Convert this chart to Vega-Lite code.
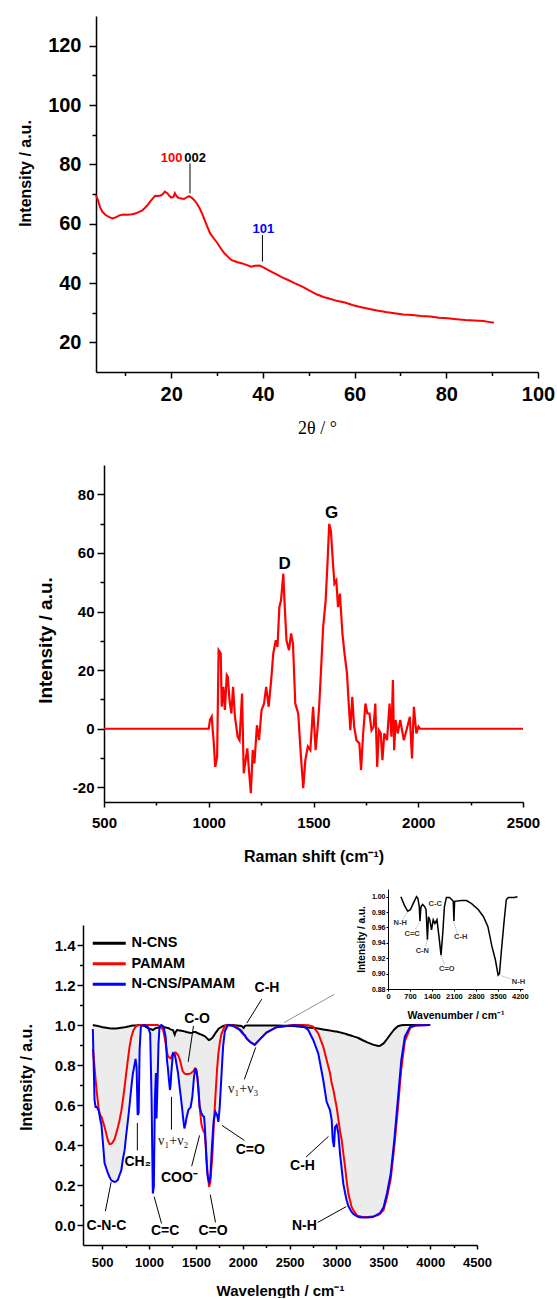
{
"$schema": "https://vega.github.io/schema/vega-lite/v6.json",
"padding": {"left": 17, "top": 16, "right": 0, "bottom": 0},
"bounds": "flush",
"spacing": 93,
"resolve": {"scale": {"color": "independent"}, "legend": {"color": "independent"}},
"config": {"view": {"stroke": null}, "font": "Liberation Sans",
  "axis": {"grid": false, "domainColor": "#000", "tickColor": "#000", "labelColor": "#000", "titleColor": "#000", "labelFontWeight": "bold", "titleFontWeight": "bold", "labelFont": "Liberation Sans", "titleFont": "Liberation Sans", "labelFlush": false, "labelOverlap": false, "labelBound": false, "domainWidth": 1.5, "tickWidth": 1.5}},
"datasets": {
"xrd": [{"x":3.6,"y":69.5},{"x":4.0,"y":68},{"x":4.5,"y":65.5},{"x":5.0,"y":64},{"x":5.7,"y":62.9},{"x":6.5,"y":62.2},{"x":7.2,"y":61.8},{"x":8.0,"y":62.2},{"x":8.7,"y":62.8},{"x":9.6,"y":63.1},{"x":10.5,"y":63.0},{"x":11.5,"y":63.2},{"x":12.3,"y":63.5},{"x":13.0,"y":64.0},{"x":13.7,"y":64.5},{"x":14.2,"y":65.2},{"x":14.8,"y":66.2},{"x":15.4,"y":67.4},{"x":16.0,"y":68.5},{"x":16.5,"y":69.4},{"x":17.1,"y":69.3},{"x":17.7,"y":69.5},{"x":18.2,"y":70.0},{"x":18.6,"y":70.8},{"x":19.2,"y":70.2},{"x":19.6,"y":69.4},{"x":20.0,"y":68.8},{"x":20.5,"y":69.0},{"x":20.8,"y":70.3},{"x":21.2,"y":69.2},{"x":21.6,"y":68.7},{"x":22.2,"y":68.5},{"x":22.8,"y":68.3},{"x":23.4,"y":68.9},{"x":23.9,"y":69.3},{"x":24.5,"y":68.7},{"x":25.0,"y":68.0},{"x":25.6,"y":66.8},{"x":26.2,"y":65.2},{"x":26.8,"y":63.2},{"x":27.3,"y":61.2},{"x":27.9,"y":58.9},{"x":28.5,"y":56.7},{"x":29.3,"y":55.0},{"x":30.1,"y":53.4},{"x":30.8,"y":51.7},{"x":31.6,"y":50.0},{"x":32.4,"y":48.8},{"x":33.1,"y":47.8},{"x":34.3,"y":47.1},{"x":35.5,"y":46.6},{"x":36.4,"y":46.1},{"x":37.4,"y":45.5},{"x":38.3,"y":45.8},{"x":39.3,"y":45.9},{"x":40.1,"y":45.3},{"x":40.9,"y":44.6},{"x":42.0,"y":43.7},{"x":43.2,"y":42.7},{"x":44.3,"y":41.8},{"x":45.5,"y":41.0},{"x":47.0,"y":39.9},{"x":48.6,"y":38.8},{"x":50.1,"y":37.5},{"x":51.7,"y":36.2},{"x":53.2,"y":35.3},{"x":54.8,"y":34.6},{"x":56.3,"y":33.9},{"x":57.9,"y":33.4},{"x":59.5,"y":32.6},{"x":61.0,"y":32.0},{"x":63.0,"y":31.3},{"x":64.9,"y":30.7},{"x":66.8,"y":30.2},{"x":68.7,"y":29.8},{"x":70.6,"y":29.4},{"x":72.6,"y":29.2},{"x":74.5,"y":28.9},{"x":76.5,"y":28.7},{"x":78.4,"y":28.3},{"x":80.3,"y":28.1},{"x":82.2,"y":27.8},{"x":84.2,"y":27.5},{"x":86.1,"y":27.4},{"x":88.1,"y":27.2},{"x":89.2,"y":26.9},{"x":90.4,"y":26.6}],
"xrdLabels": [{"x":20.1,"y":82,"label":"100"},{"x":25.2,"y":82,"label":"002"},{"x":40.1,"y":58.1,"label":"101"}],
"xrdRules": [{"x":24.1,"y":80.3,"y2":70.2},{"x":39.9,"y":56.2,"y2":47.2}],
"raman": [{"x":500,"y":0},{"x":1000,"y":0},{"x":1006,"y":3},{"x":1014,"y":4.1},{"x":1019,"y":-0.5},{"x":1023,"y":-3.9},{"x":1031,"y":-13},{"x":1040,"y":-9.5},{"x":1047,"y":26.8},{"x":1057,"y":25.7},{"x":1062,"y":7.5},{"x":1070,"y":14.3},{"x":1077,"y":6.4},{"x":1086,"y":18.3},{"x":1091,"y":17.7},{"x":1099,"y":9.8},{"x":1108,"y":5.2},{"x":1116,"y":14.3},{"x":1125,"y":4.1},{"x":1138,"y":-2.7},{"x":1147,"y":-3.9},{"x":1159,"y":12},{"x":1167,"y":-15.2},{"x":1176,"y":-10.7},{"x":1184,"y":-6.7},{"x":1193,"y":-15.2},{"x":1201,"y":-22},{"x":1210,"y":-7.3},{"x":1218,"y":-11.8},{"x":1230,"y":1.2},{"x":1240,"y":-3.9},{"x":1252,"y":6.4},{"x":1264,"y":8.6},{"x":1274,"y":14.3},{"x":1286,"y":7.5},{"x":1298,"y":16.6},{"x":1308,"y":25.7},{"x":1320,"y":30.2},{"x":1328,"y":27.9},{"x":1337,"y":41.5},{"x":1345,"y":43.8},{"x":1356,"y":52.9},{"x":1362,"y":42.7},{"x":1371,"y":30.2},{"x":1383,"y":26.8},{"x":1393,"y":32.5},{"x":1402,"y":29.1},{"x":1413,"y":8.6},{"x":1427,"y":5.2},{"x":1439,"y":-8.4},{"x":1451,"y":-20.3},{"x":1461,"y":-10.7},{"x":1473,"y":-6.1},{"x":1485,"y":-7.3},{"x":1498,"y":7.5},{"x":1510,"y":-7.3},{"x":1520,"y":0.7},{"x":1527,"y":7.5},{"x":1536,"y":20},{"x":1546,"y":34.7},{"x":1558,"y":43.8},{"x":1566,"y":55.2},{"x":1575,"y":69.9},{"x":1583,"y":67.6},{"x":1592,"y":57.4},{"x":1600,"y":49.5},{"x":1609,"y":50.6},{"x":1617,"y":41.5},{"x":1626,"y":46.1},{"x":1638,"y":32.5},{"x":1648,"y":25.7},{"x":1660,"y":18.8},{"x":1668,"y":8.6},{"x":1676,"y":-0.5},{"x":1685,"y":10.9},{"x":1694,"y":0.7},{"x":1705,"y":-3.9},{"x":1719,"y":-5},{"x":1727,"y":-14.1},{"x":1736,"y":-2.7},{"x":1748,"y":8.6},{"x":1757,"y":5.2},{"x":1767,"y":5.2},{"x":1777,"y":-0.5},{"x":1787,"y":0.7},{"x":1795,"y":8.6},{"x":1804,"y":-13},{"x":1812,"y":-0.5},{"x":1821,"y":-1.6},{"x":1829,"y":-10.7},{"x":1838,"y":-1.6},{"x":1851,"y":-3.9},{"x":1863,"y":8.6},{"x":1872,"y":-2.7},{"x":1879,"y":16.6},{"x":1885,"y":-7.3},{"x":1892,"y":3},{"x":1902,"y":-1.6},{"x":1914,"y":3},{"x":1931,"y":-3.9},{"x":1948,"y":0.7},{"x":1960,"y":4.1},{"x":1970,"y":-10.1},{"x":1979,"y":7.5},{"x":1991,"y":-1.6},{"x":2001,"y":0.7},{"x":2008,"y":0},{"x":2500,"y":0}],
"ramanLabels": [{"x":1362,"y":56.3,"label":"D"},{"x":1587,"y":73.6,"label":"G"}],
"ftir": [{"w":400,"N-CNS":1.0,"PAMAM":0.88,"N-CNS/PAMAM":0.98},{"w":418,"N-CNS":0.998,"PAMAM":0.79,"N-CNS/PAMAM":0.625},{"w":429,"N-CNS":0.997,"PAMAM":0.73,"N-CNS/PAMAM":0.59},{"w":443,"N-CNS":0.996,"PAMAM":0.66,"N-CNS/PAMAM":0.59},{"w":464,"N-CNS":0.994,"PAMAM":0.575,"N-CNS/PAMAM":0.57},{"w":478,"N-CNS":0.993,"PAMAM":0.55,"N-CNS/PAMAM":0.53},{"w":492,"N-CNS":0.99,"PAMAM":0.541,"N-CNS/PAMAM":0.5},{"w":525,"N-CNS":0.988,"PAMAM":0.491,"N-CNS/PAMAM":0.31},{"w":560,"N-CNS":0.985,"PAMAM":0.424,"N-CNS/PAMAM":0.26},{"w":578,"N-CNS":0.984,"PAMAM":0.404,"N-CNS/PAMAM":0.24},{"w":596,"N-CNS":0.982,"PAMAM":0.406,"N-CNS/PAMAM":0.224},{"w":607,"N-CNS":0.982,"PAMAM":0.41,"N-CNS/PAMAM":0.22},{"w":632,"N-CNS":0.982,"PAMAM":0.43,"N-CNS/PAMAM":0.215},{"w":649,"N-CNS":0.983,"PAMAM":0.457,"N-CNS/PAMAM":0.218},{"w":668,"N-CNS":0.984,"PAMAM":0.49,"N-CNS/PAMAM":0.227},{"w":685,"N-CNS":0.985,"PAMAM":0.524,"N-CNS/PAMAM":0.25},{"w":704,"N-CNS":0.986,"PAMAM":0.57,"N-CNS/PAMAM":0.274},{"w":721,"N-CNS":0.987,"PAMAM":0.625,"N-CNS/PAMAM":0.33},{"w":739,"N-CNS":0.989,"PAMAM":0.69,"N-CNS/PAMAM":0.374},{"w":756,"N-CNS":0.99,"PAMAM":0.758,"N-CNS/PAMAM":0.45},{"w":775,"N-CNS":0.992,"PAMAM":0.83,"N-CNS/PAMAM":0.525},{"w":792,"N-CNS":0.994,"PAMAM":0.892,"N-CNS/PAMAM":0.6},{"w":811,"N-CNS":0.996,"PAMAM":0.94,"N-CNS/PAMAM":0.69},{"w":828,"N-CNS":0.997,"PAMAM":0.967,"N-CNS/PAMAM":0.76},{"w":835,"N-CNS":0.997,"PAMAM":0.975,"N-CNS/PAMAM":0.775},{"w":856,"N-CNS":0.998,"PAMAM":0.99,"N-CNS/PAMAM":0.83},{"w":867,"N-CNS":0.998,"PAMAM":0.997,"N-CNS/PAMAM":0.79},{"w":878,"N-CNS":0.999,"PAMAM":0.998,"N-CNS/PAMAM":0.55},{"w":889,"N-CNS":1.0,"PAMAM":0.999,"N-CNS/PAMAM":0.56},{"w":899,"N-CNS":1.0,"PAMAM":1.0,"N-CNS/PAMAM":0.875},{"w":913,"N-CNS":1.0,"PAMAM":1.0,"N-CNS/PAMAM":0.995},{"w":952,"N-CNS":0.995,"PAMAM":1.0,"N-CNS/PAMAM":1.0},{"w":987,"N-CNS":0.985,"PAMAM":1.0,"N-CNS/PAMAM":0.99},{"w":1012,"N-CNS":0.98,"PAMAM":1.0,"N-CNS/PAMAM":0.958},{"w":1027,"N-CNS":0.978,"PAMAM":1.0,"N-CNS/PAMAM":0.625},{"w":1040,"N-CNS":0.975,"PAMAM":1.0,"N-CNS/PAMAM":0.157},{"w":1051,"N-CNS":0.978,"PAMAM":1.0,"N-CNS/PAMAM":0.19},{"w":1062,"N-CNS":0.982,"PAMAM":1.0,"N-CNS/PAMAM":0.625},{"w":1073,"N-CNS":0.985,"PAMAM":1.0,"N-CNS/PAMAM":0.76},{"w":1080,"N-CNS":0.985,"PAMAM":1.0,"N-CNS/PAMAM":0.533},{"w":1091,"N-CNS":0.986,"PAMAM":1.0,"N-CNS/PAMAM":0.725},{"w":1101,"N-CNS":0.987,"PAMAM":0.998,"N-CNS/PAMAM":0.908},{"w":1112,"N-CNS":0.988,"PAMAM":0.995,"N-CNS/PAMAM":0.99},{"w":1130,"N-CNS":0.99,"PAMAM":0.99,"N-CNS/PAMAM":1.0},{"w":1148,"N-CNS":0.99,"PAMAM":0.975,"N-CNS/PAMAM":0.995},{"w":1155,"N-CNS":0.99,"PAMAM":0.965,"N-CNS/PAMAM":0.99},{"w":1177,"N-CNS":0.988,"PAMAM":0.908,"N-CNS/PAMAM":0.942},{"w":1191,"N-CNS":0.986,"PAMAM":0.865,"N-CNS/PAMAM":0.825},{"w":1202,"N-CNS":0.985,"PAMAM":0.842,"N-CNS/PAMAM":0.78},{"w":1209,"N-CNS":0.984,"PAMAM":0.84,"N-CNS/PAMAM":0.74},{"w":1223,"N-CNS":0.98,"PAMAM":0.835,"N-CNS/PAMAM":0.675},{"w":1230,"N-CNS":0.978,"PAMAM":0.833,"N-CNS/PAMAM":0.7},{"w":1237,"N-CNS":0.977,"PAMAM":0.84,"N-CNS/PAMAM":0.758},{"w":1255,"N-CNS":0.975,"PAMAM":0.858,"N-CNS/PAMAM":0.858},{"w":1274,"N-CNS":0.952,"PAMAM":0.862,"N-CNS/PAMAM":0.852},{"w":1284,"N-CNS":0.965,"PAMAM":0.862,"N-CNS/PAMAM":0.83},{"w":1298,"N-CNS":0.975,"PAMAM":0.855,"N-CNS/PAMAM":0.79},{"w":1309,"N-CNS":0.974,"PAMAM":0.85,"N-CNS/PAMAM":0.76},{"w":1326,"N-CNS":0.972,"PAMAM":0.83,"N-CNS/PAMAM":0.69},{"w":1334,"N-CNS":0.972,"PAMAM":0.817,"N-CNS/PAMAM":0.66},{"w":1355,"N-CNS":0.97,"PAMAM":0.775,"N-CNS/PAMAM":0.575},{"w":1362,"N-CNS":0.97,"PAMAM":0.767,"N-CNS/PAMAM":0.54},{"w":1377,"N-CNS":0.968,"PAMAM":0.758,"N-CNS/PAMAM":0.483},{"w":1391,"N-CNS":0.966,"PAMAM":0.755,"N-CNS/PAMAM":0.51},{"w":1398,"N-CNS":0.965,"PAMAM":0.755,"N-CNS/PAMAM":0.533},{"w":1420,"N-CNS":0.963,"PAMAM":0.755,"N-CNS/PAMAM":0.575},{"w":1444,"N-CNS":0.96,"PAMAM":0.758,"N-CNS/PAMAM":0.59},{"w":1462,"N-CNS":0.962,"PAMAM":0.765,"N-CNS/PAMAM":0.642},{"w":1469,"N-CNS":0.963,"PAMAM":0.767,"N-CNS/PAMAM":0.68},{"w":1480,"N-CNS":0.965,"PAMAM":0.775,"N-CNS/PAMAM":0.742},{"w":1491,"N-CNS":0.965,"PAMAM":0.783,"N-CNS/PAMAM":0.77},{"w":1498,"N-CNS":0.965,"PAMAM":0.78,"N-CNS/PAMAM":0.783},{"w":1505,"N-CNS":0.963,"PAMAM":0.775,"N-CNS/PAMAM":0.77},{"w":1515,"N-CNS":0.96,"PAMAM":0.74,"N-CNS/PAMAM":0.742},{"w":1526,"N-CNS":0.958,"PAMAM":0.69,"N-CNS/PAMAM":0.68},{"w":1540,"N-CNS":0.955,"PAMAM":0.59,"N-CNS/PAMAM":0.59},{"w":1558,"N-CNS":0.952,"PAMAM":0.507,"N-CNS/PAMAM":0.56},{"w":1569,"N-CNS":0.95,"PAMAM":0.485,"N-CNS/PAMAM":0.55},{"w":1576,"N-CNS":0.948,"PAMAM":0.474,"N-CNS/PAMAM":0.545},{"w":1587,"N-CNS":0.946,"PAMAM":0.465,"N-CNS/PAMAM":0.541},{"w":1594,"N-CNS":0.944,"PAMAM":0.457,"N-CNS/PAMAM":0.5},{"w":1605,"N-CNS":0.94,"PAMAM":0.39,"N-CNS/PAMAM":0.407},{"w":1612,"N-CNS":0.937,"PAMAM":0.34,"N-CNS/PAMAM":0.33},{"w":1622,"N-CNS":0.932,"PAMAM":0.27,"N-CNS/PAMAM":0.257},{"w":1630,"N-CNS":0.928,"PAMAM":0.24,"N-CNS/PAMAM":0.23},{"w":1640,"N-CNS":0.925,"PAMAM":0.19,"N-CNS/PAMAM":0.215},{"w":1654,"N-CNS":0.928,"PAMAM":0.215,"N-CNS/PAMAM":0.24},{"w":1672,"N-CNS":0.935,"PAMAM":0.324,"N-CNS/PAMAM":0.4},{"w":1676,"N-CNS":0.937,"PAMAM":0.35,"N-CNS/PAMAM":0.424},{"w":1690,"N-CNS":0.945,"PAMAM":0.491,"N-CNS/PAMAM":0.524},{"w":1708,"N-CNS":0.96,"PAMAM":0.641,"N-CNS/PAMAM":0.566},{"w":1726,"N-CNS":0.97,"PAMAM":0.78,"N-CNS/PAMAM":0.55},{"w":1740,"N-CNS":0.98,"PAMAM":0.86,"N-CNS/PAMAM":0.516},{"w":1754,"N-CNS":0.985,"PAMAM":0.908,"N-CNS/PAMAM":0.59},{"w":1772,"N-CNS":0.99,"PAMAM":0.955,"N-CNS/PAMAM":0.742},{"w":1790,"N-CNS":0.995,"PAMAM":0.975,"N-CNS/PAMAM":0.892},{"w":1808,"N-CNS":0.998,"PAMAM":0.995,"N-CNS/PAMAM":0.965},{"w":1815,"N-CNS":0.998,"PAMAM":0.997,"N-CNS/PAMAM":0.975},{"w":1843,"N-CNS":1.0,"PAMAM":1.0,"N-CNS/PAMAM":1.0},{"w":1897,"N-CNS":1.0,"PAMAM":0.997,"N-CNS/PAMAM":0.995},{"w":1932,"N-CNS":0.998,"PAMAM":0.992,"N-CNS/PAMAM":0.985},{"w":1968,"N-CNS":0.996,"PAMAM":0.978,"N-CNS/PAMAM":0.975},{"w":1986,"N-CNS":0.995,"PAMAM":0.972,"N-CNS/PAMAM":0.965},{"w":2010,"N-CNS":0.985,"PAMAM":0.955,"N-CNS/PAMAM":0.952},{"w":2021,"N-CNS":0.995,"PAMAM":0.948,"N-CNS/PAMAM":0.95},{"w":2039,"N-CNS":0.998,"PAMAM":0.933,"N-CNS/PAMAM":0.935},{"w":2075,"N-CNS":0.998,"PAMAM":0.917,"N-CNS/PAMAM":0.917},{"w":2093,"N-CNS":0.998,"PAMAM":0.912,"N-CNS/PAMAM":0.91},{"w":2128,"N-CNS":0.998,"PAMAM":0.903,"N-CNS/PAMAM":0.9},{"w":2182,"N-CNS":0.998,"PAMAM":0.928,"N-CNS/PAMAM":0.928},{"w":2253,"N-CNS":0.998,"PAMAM":0.962,"N-CNS/PAMAM":0.962},{"w":2360,"N-CNS":0.997,"PAMAM":0.989,"N-CNS/PAMAM":0.989},{"w":2538,"N-CNS":0.995,"PAMAM":1.0,"N-CNS/PAMAM":0.999},{"w":2645,"N-CNS":0.99,"PAMAM":1.0,"N-CNS/PAMAM":0.995},{"w":2699,"N-CNS":0.987,"PAMAM":0.999,"N-CNS/PAMAM":0.975},{"w":2752,"N-CNS":0.985,"PAMAM":0.992,"N-CNS/PAMAM":0.925},{"w":2806,"N-CNS":0.982,"PAMAM":0.958,"N-CNS/PAMAM":0.858},{"w":2859,"N-CNS":0.978,"PAMAM":0.892,"N-CNS/PAMAM":0.725},{"w":2895,"N-CNS":0.975,"PAMAM":0.825,"N-CNS/PAMAM":0.616},{"w":2931,"N-CNS":0.972,"PAMAM":0.76,"N-CNS/PAMAM":0.575},{"w":2949,"N-CNS":0.971,"PAMAM":0.708,"N-CNS/PAMAM":0.525},{"w":2960,"N-CNS":0.97,"PAMAM":0.69,"N-CNS/PAMAM":0.425},{"w":2974,"N-CNS":0.969,"PAMAM":0.66,"N-CNS/PAMAM":0.39},{"w":2985,"N-CNS":0.968,"PAMAM":0.63,"N-CNS/PAMAM":0.49},{"w":3002,"N-CNS":0.967,"PAMAM":0.59,"N-CNS/PAMAM":0.5},{"w":3020,"N-CNS":0.965,"PAMAM":0.53,"N-CNS/PAMAM":0.458},{"w":3038,"N-CNS":0.963,"PAMAM":0.47,"N-CNS/PAMAM":0.357},{"w":3056,"N-CNS":0.961,"PAMAM":0.424,"N-CNS/PAMAM":0.28},{"w":3073,"N-CNS":0.959,"PAMAM":0.36,"N-CNS/PAMAM":0.207},{"w":3092,"N-CNS":0.957,"PAMAM":0.291,"N-CNS/PAMAM":0.16},{"w":3109,"N-CNS":0.954,"PAMAM":0.22,"N-CNS/PAMAM":0.124},{"w":3127,"N-CNS":0.951,"PAMAM":0.157,"N-CNS/PAMAM":0.095},{"w":3162,"N-CNS":0.946,"PAMAM":0.09,"N-CNS/PAMAM":0.065},{"w":3181,"N-CNS":0.943,"PAMAM":0.074,"N-CNS/PAMAM":0.055},{"w":3216,"N-CNS":0.938,"PAMAM":0.05,"N-CNS/PAMAM":0.044},{"w":3234,"N-CNS":0.935,"PAMAM":0.045,"N-CNS/PAMAM":0.04},{"w":3275,"N-CNS":0.925,"PAMAM":0.04,"N-CNS/PAMAM":0.038},{"w":3330,"N-CNS":0.913,"PAMAM":0.04,"N-CNS/PAMAM":0.038},{"w":3389,"N-CNS":0.902,"PAMAM":0.042,"N-CNS/PAMAM":0.04},{"w":3446,"N-CNS":0.895,"PAMAM":0.05,"N-CNS/PAMAM":0.055},{"w":3465,"N-CNS":0.896,"PAMAM":0.055,"N-CNS/PAMAM":0.06},{"w":3503,"N-CNS":0.908,"PAMAM":0.075,"N-CNS/PAMAM":0.089},{"w":3540,"N-CNS":0.93,"PAMAM":0.14,"N-CNS/PAMAM":0.16},{"w":3579,"N-CNS":0.955,"PAMAM":0.23,"N-CNS/PAMAM":0.256},{"w":3617,"N-CNS":0.978,"PAMAM":0.39,"N-CNS/PAMAM":0.423},{"w":3655,"N-CNS":0.994,"PAMAM":0.58,"N-CNS/PAMAM":0.624},{"w":3692,"N-CNS":0.999,"PAMAM":0.78,"N-CNS/PAMAM":0.825},{"w":3730,"N-CNS":1.0,"PAMAM":0.92,"N-CNS/PAMAM":0.942},{"w":3787,"N-CNS":1.0,"PAMAM":0.985,"N-CNS/PAMAM":0.992},{"w":3844,"N-CNS":1.0,"PAMAM":0.998,"N-CNS/PAMAM":0.998},{"w":4000,"N-CNS":1.0,"PAMAM":1.0,"N-CNS/PAMAM":1.0}],
"ftirLabels": [{"w":545,"y":-0.003,"label":"C-N-C"},{"w":879,"y":0.314,"label":"CH₂"},{"w":1171,"y":-0.032,"label":"C=C"},{"w":1683,"y":-0.032,"label":"C=O"},{"w":1323,"y":0.236,"label":"COO⁻"},{"w":1512,"y":1.03,"label":"C-O"},{"w":2081,"y":0.373,"label":"C=O"},{"w":2259,"y":1.187,"label":"C-H"},{"w":2638,"y":0.294,"label":"C-H"},{"w":2657,"y":-0.003,"label":"N-H"}],
"ftirNu": [{"w":1258,"y":0.42,"label":"ν₁+ν₂"},{"w":2005,"y":0.682,"label":"ν₁+ν₃"}],
"ftirArrows": [{"w":534,"y":0.069,"w2":595,"y2":0.214},{"w":875,"y":0.373,"w2":875,"y2":0.51},{"w":1133,"y":0.008,"w2":1054,"y2":0.142},{"w":1709,"y":0.013,"w2":1653,"y2":0.152},{"w":1239,"y":0.477,"w2":1239,"y2":0.641},{"w":1455,"y":0.294,"w2":1539,"y2":0.448},{"w":1474,"y":0.995,"w2":1418,"y2":0.816},{"w":2017,"y":0.423,"w2":1778,"y2":0.498},{"w":2017,"y":0.728,"w2":2138,"y2":0.888},{"w":2202,"y":1.129,"w2":2043,"y2":1.009},{"w":2676,"y":0.34,"w2":2915,"y2":0.443},{"w":2801,"y":0.013,"w2":3105,"y2":0.092}],
"ftirPointer": [{"w":2441,"y":1.012,"w2":2980,"y2":1.154}],
"inset": [{"w":411,"t":1.0},{"w":520,"t":0.989},{"w":628,"t":0.981},{"w":714,"t":0.983},{"w":801,"t":0.991},{"w":909,"t":1.0},{"w":952,"t":0.998},{"w":996,"t":0.987},{"w":1018,"t":0.968},{"w":1050,"t":0.987},{"w":1104,"t":0.99},{"w":1169,"t":0.987},{"w":1212,"t":0.983},{"w":1256,"t":0.944},{"w":1288,"t":0.974},{"w":1331,"t":0.97},{"w":1386,"t":0.957},{"w":1440,"t":0.97},{"w":1494,"t":0.965},{"w":1559,"t":0.97},{"w":1624,"t":0.948},{"w":1689,"t":0.924},{"w":1743,"t":0.952},{"w":1797,"t":0.987},{"w":1862,"t":0.999},{"w":1959,"t":0.999},{"w":2035,"t":0.996},{"w":2078,"t":0.994},{"w":2100,"t":0.968},{"w":2122,"t":0.994},{"w":2338,"t":0.995},{"w":2500,"t":0.995},{"w":2663,"t":0.991},{"w":2879,"t":0.983},{"w":3041,"t":0.974},{"w":3182,"t":0.961},{"w":3312,"t":0.935},{"w":3420,"t":0.918},{"w":3507,"t":0.898},{"w":3550,"t":0.9},{"w":3615,"t":0.931},{"w":3691,"t":0.965},{"w":3767,"t":0.996},{"w":3832,"t":0.999},{"w":4016,"t":0.999},{"w":4124,"t":1.0}],
"insetLabels": [{"w":390,"t":0.966,"label":"N-H"},{"w":769,"t":0.951,"label":"C=C"},{"w":1093,"t":0.93,"label":"C-N"},{"w":1505,"t":0.991,"label":"C-C"},{"w":1873,"t":0.906,"label":"C=O"},{"w":2316,"t":0.947,"label":"C-H"},{"w":4157,"t":0.889,"label":"N-H"}],
"insetLeaders": [{"w":476,"t":0.971,"w2":628,"t2":0.9805},{"w":877,"t":0.958,"w2":996,"t2":0.966},{"w":1202,"t":0.936,"w2":1256,"t2":0.944},{"w":1797,"t":0.912,"w2":1689,"t2":0.924},{"w":2208,"t":0.952,"w2":2100,"t2":0.966},{"w":3984,"t":0.892,"w2":3551,"t2":0.898}]
},
"vconcat": [
{
 "width": 455, "height": 356,
 "layer": [
  {"data": {"name": "xrd"}, "mark": {"type": "line", "color": "#ff0000", "strokeWidth": 2},
   "encoding": {
    "x": {"field": "x", "type": "quantitative", "scale": {"domain": [3.6, 100], "range": [13, 455], "nice": false, "zero": false},
      "axis": {"values": [20, 40, 60, 80, 100], "title": "2θ / °", "titleFont": "Liberation Serif", "titleFontWeight": "normal", "titleFontSize": 18, "titleY": 47, "labelFontSize": 20, "tickSize": 6, "labelPadding": 6}},
    "y": {"field": "y", "type": "quantitative", "scale": {"domain": [10, 130], "nice": false, "zero": false},
      "axis": {"values": [20, 40, 60, 80, 100, 120], "title": "Intensity / a.u.", "titleFontSize": 16, "titleX": -63, "titleY": 157, "labelFontSize": 20, "tickSize": 7, "labelPadding": 8, "offset": -13}}
   }},
  {"data": {"name": "xrd"}, "mark": {"type": "point", "opacity": 0},
   "encoding": {
    "x": {"field": "x", "type": "quantitative", "axis": {"orient": "bottom", "values": [10, 30, 50, 70, 90], "labels": false, "domain": false, "tickSize": 3.5, "title": null}},
    "y": {"field": "y", "type": "quantitative", "axis": {"orient": "left", "values": [30, 50, 70, 90, 110], "labels": false, "domain": false, "tickSize": 4, "title": null, "offset": -13}}
   }},
  {"data": {"name": "xrdRules"}, "mark": {"type": "rule", "color": "#000", "strokeWidth": 1},
   "encoding": {"x": {"field": "x", "type": "quantitative", "axis": null}, "y": {"field": "y", "type": "quantitative", "axis": null}, "y2": {"field": "y2"}}},
  {"data": {"name": "xrdLabels"}, "mark": {"type": "text", "fontSize": 13, "fontWeight": "bold", "baseline": "middle", "align": "center"},
   "encoding": {"x": {"field": "x", "type": "quantitative", "axis": null}, "y": {"field": "y", "type": "quantitative", "axis": null},
    "text": {"field": "label"},
    "color": {"field": "label", "type": "nominal", "scale": {"domain": ["100", "002", "101"], "range": ["#ff0000", "#000000", "#0000ff"]}, "legend": null}}}
 ],
 "resolve": {"axis": {"x": "independent", "y": "independent"}}
},
{
 "width": 440, "height": 337,
 "layer": [
  {"data": {"name": "raman"}, "mark": {"type": "line", "color": "#ff0000", "strokeWidth": 2.2},
   "encoding": {
    "x": {"field": "x", "type": "quantitative", "scale": {"domain": [500, 2500], "range": [21, 440], "nice": false, "zero": false},
      "axis": {"values": [500, 1000, 1500, 2000, 2500], "format": "d", "title": "Raman shift (cm⁻¹)", "titleFontSize": 16, "titleY": 46, "labelFontSize": 15, "tickSize": 5, "labelPadding": 8}},
    "y": {"field": "y", "type": "quantitative", "scale": {"domain": [-25, 90], "nice": false, "zero": false},
      "axis": {"values": [-20, 0, 20, 40, 60, 80], "labelExpr": "datum.value < 0 ? '-' + format(-datum.value, 'd') : format(datum.value, 'd')", "title": "Intensity / a.u.", "titleFontSize": 19, "titleX": -49, "titleY": 175, "labelFontSize": 15, "tickSize": 7, "labelPadding": 3, "offset": -21}}
   }},
  {"data": {"name": "raman"}, "mark": {"type": "point", "opacity": 0},
   "encoding": {
    "x": {"field": "x", "type": "quantitative", "axis": {"orient": "bottom", "values": [750, 1250, 1750, 2250], "labels": false, "domain": false, "tickSize": 3, "title": null}},
    "y": {"field": "y", "type": "quantitative", "axis": {"orient": "left", "values": [-10, 10, 30, 50, 70], "labels": false, "domain": false, "tickSize": 4, "title": null, "offset": -21}}
   }},
  {"data": {"name": "ramanLabels"}, "mark": {"type": "text", "fontSize": 17, "fontWeight": "bold", "baseline": "middle", "align": "center", "color": "#000"},
   "encoding": {"x": {"field": "x", "type": "quantitative", "axis": null}, "y": {"field": "y", "type": "quantitative", "axis": null}, "text": {"field": "label"}}}
 ],
 "resolve": {"axis": {"x": "independent", "y": "independent"}}
},
{
 "width": 394, "height": 350,
 "layer": [
  {
   "layer": [
    {"data": {"name": "ftir"}, "mark": {"type": "area", "color": "#ececec"},
     "encoding": {
      "x": {"field": "w", "type": "quantitative", "scale": {"domain": [295, 4500], "nice": false, "zero": false},
        "axis": {"values": [500, 1000, 1500, 2000, 2500, 3000, 3500, 4000, 4500], "format": "d", "title": "Wavelength / cm⁻¹", "titleFontSize": 15, "titleY": 38, "labelFontSize": 13, "tickSize": 4, "labelPadding": 7}},
      "y": {"field": "N-CNS", "type": "quantitative", "scale": {"domain": [-0.1, 1.5], "range": [350, 30], "nice": false, "zero": false},
        "axis": {"values": [0, 0.2, 0.4, 0.6, 0.8, 1.0, 1.2, 1.4], "format": ".1f", "title": "Intensity / a.u.", "titleFontSize": 16, "titleX": -49, "titleY": 182, "labelFontSize": 15, "tickSize": 6, "labelPadding": 2}},
      "y2": {"field": "N-CNS/PAMAM"}
     }},
    {"data": {"name": "ftir"}, "mark": {"type": "point", "opacity": 0},
     "encoding": {
      "x": {"field": "w", "type": "quantitative", "axis": {"orient": "bottom", "values": [750, 1250, 1750, 2250, 2750, 3250, 3750, 4250], "labels": false, "domain": false, "tickSize": 2.5, "title": null}},
      "y": {"field": "N-CNS", "type": "quantitative", "axis": {"orient": "left", "values": [0.1, 0.3, 0.5, 0.7, 0.9, 1.1, 1.3], "labels": false, "domain": false, "tickSize": 3.5, "title": null}}
     }},
    {"data": {"name": "ftir"},
     "transform": [{"fold": ["N-CNS", "PAMAM", "N-CNS/PAMAM"], "as": ["series", "value"]}],
     "mark": {"type": "line", "strokeWidth": 2},
     "encoding": {"x": {"field": "w", "type": "quantitative", "axis": null}, "y": {"field": "value", "type": "quantitative", "axis": null},
      "color": {"field": "series", "type": "nominal", "scale": {"domain": ["N-CNS", "PAMAM", "N-CNS/PAMAM"], "range": ["#000000", "#ff0000", "#0000ff"]},
        "legend": {"title": null, "orient": "none", "legendX": 19, "legendY": 41, "symbolType": "M-3,0H3", "symbolSize": 121, "symbolStrokeWidth": 3, "labelOffset": 15, "labelFontSize": 14.5, "labelFontWeight": "bold", "labelFont": "Liberation Sans", "labelColor": "#000", "rowPadding": 5.5}}}},
    {"data": {"name": "ftirArrows"}, "mark": {"type": "rule", "color": "#000", "strokeWidth": 1},
     "encoding": {"x": {"field": "w", "type": "quantitative", "axis": null}, "y": {"field": "y", "type": "quantitative", "axis": null}, "x2": {"field": "w2"}, "y2": {"field": "y2"}}},
    {"data": {"name": "ftirPointer"}, "mark": {"type": "rule", "color": "#777", "strokeWidth": 0.8},
     "encoding": {"x": {"field": "w", "type": "quantitative", "axis": null}, "y": {"field": "y", "type": "quantitative", "axis": null}, "x2": {"field": "w2"}, "y2": {"field": "y2"}}},
    {"data": {"name": "ftirLabels"}, "mark": {"type": "text", "fontSize": 14, "fontWeight": "bold", "baseline": "middle", "align": "center", "color": "#000"},
     "encoding": {"x": {"field": "w", "type": "quantitative", "axis": null}, "y": {"field": "y", "type": "quantitative", "axis": null}, "text": {"field": "label"}}},
    {"data": {"name": "ftirNu"}, "mark": {"type": "text", "fontSize": 14, "font": "Liberation Serif", "baseline": "middle", "align": "center", "color": "#222"},
     "encoding": {"x": {"field": "w", "type": "quantitative", "axis": null}, "y": {"field": "y", "type": "quantitative", "axis": null}, "text": {"field": "label"}}}
   ],
   "resolve": {"axis": {"x": "independent", "y": "independent"}}
  },
  {
   "layer": [
    {"data": {"name": "inset"}, "mark": {"type": "line", "color": "#000", "strokeWidth": 1.5},
     "encoding": {
      "x": {"field": "w", "type": "quantitative", "scale": {"domain": [0, 4300], "range": [305, 440], "nice": false, "zero": false},
        "axis": {"orient": "bottom", "offset": -256, "values": [0, 700, 1400, 2100, 2800, 3500, 4200], "format": "d", "title": "Wavenumber / cm⁻¹", "titleFontSize": 10.5, "titlePadding": 11, "labelFontSize": 7.5, "tickSize": 2, "labelPadding": 1, "domainWidth": 1, "tickWidth": 1}},
      "y": {"field": "t", "type": "quantitative", "scale": {"domain": [0.88, 1.01], "range": [94, -6], "nice": false, "zero": false},
        "axis": {"orient": "left", "offset": -305, "values": [0.88, 0.9, 0.92, 0.94, 0.96, 0.98, 1.0], "format": ".2f", "title": "Intensity / a.u.", "titleFontSize": 10, "titlePadding": 5, "labelFontSize": 7, "tickSize": 2, "labelPadding": 1, "domainWidth": 1, "tickWidth": 1}}
     }},
    {"data": {"name": "insetLeaders"}, "mark": {"type": "rule", "color": "#888", "strokeWidth": 0.8, "strokeDash": [1, 1]},
     "encoding": {"x": {"field": "w", "type": "quantitative", "axis": null}, "y": {"field": "t", "type": "quantitative", "axis": null}, "x2": {"field": "w2"}, "y2": {"field": "t2"}}},
    {"data": {"name": "insetLabels"}, "mark": {"type": "text", "fontSize": 7.5, "fontWeight": "bold", "baseline": "middle", "align": "center", "color": "#333"},
     "encoding": {"x": {"field": "w", "type": "quantitative", "axis": null}, "y": {"field": "t", "type": "quantitative", "axis": null}, "text": {"field": "label"}}}
   ],
   "resolve": {"axis": {"x": "independent", "y": "independent"}}
  }
 ],
 "resolve": {"scale": {"x": "independent", "y": "independent"}, "axis": {"x": "independent", "y": "independent"}}
}
]
}
